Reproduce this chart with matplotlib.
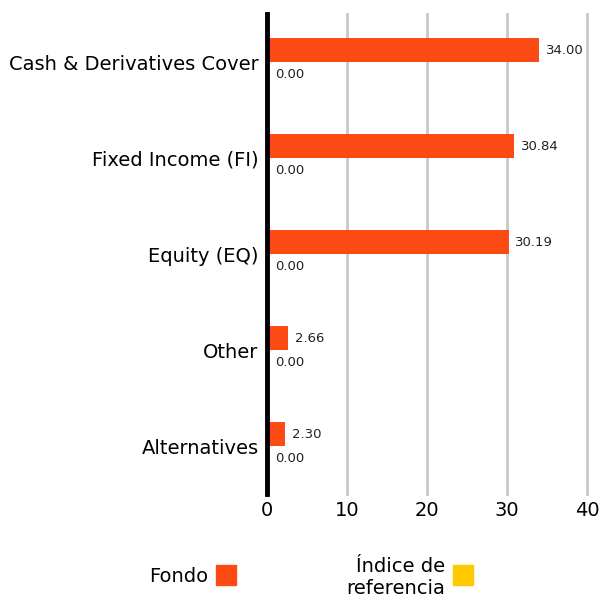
import matplotlib.pyplot as plt
import numpy as np
from matplotlib.patches import Rectangle

# data
categories = ['Cash & Derivatives Cover', 'Fixed Income (FI)', 'Equity (EQ)', 'Other', 'Alternatives']
fondo = [34.00, 30.84, 30.19, 2.66, 2.30]
indice = [0.00, 0.00, 0.00, 0.00, 0.00]
xticks = [0, 10, 20, 30, 40]

orange = '#FC4A14'
yellow = '#FFC800'

plt.rcParams['font.family'] = ['DejaVu Sans']

fig = plt.figure(figsize=(5.99, 6.04), dpi=100)
ax = fig.add_axes([267 / 599, 1 - 494 / 604, 320 / 599, 480 / 604])

y = np.arange(len(categories))
h = 0.25
ax.barh(y - h / 2, fondo, height=h, color=orange, zorder=3)
ax.barh(y + h / 2, indice, height=h, color=yellow, zorder=3)

for yi, v in zip(y, fondo):
    ax.annotate(f'{v:.2f}', (v, yi - h / 2), xytext=(5, 0), textcoords='offset points',
                va='center', ha='left', fontsize=9.5, color='#222222')
for yi, v in zip(y, indice):
    ax.annotate(f'{v:.2f}', (v, yi + h / 2), xytext=(6, 0), textcoords='offset points',
                va='center', ha='left', fontsize=9.5, color='#222222')

ax.set_xlim(0, 40)
ax.set_ylim(len(categories) - 0.5, -0.5)
ax.set_xticks(xticks)
ax.set_yticks(y)
ax.set_yticklabels(categories, fontsize=14)
ax.tick_params(axis='x', labelsize=14, length=0, pad=5)
ax.tick_params(axis='y', length=0, pad=6)

for s in ax.spines.values():
    s.set_visible(False)
ax.grid(axis='x', color='#c8c8c8', linewidth=2, zorder=0)
for gl in ax.get_xgridlines():
    gl.set_clip_on(False)
ax.axvline(0, color='black', linewidth=3.5, zorder=4, clip_on=False)

# legend
fig.text(208 / 599, 1 - 577 / 604, 'Fondo', ha='right', va='center', fontsize=14)
fig.patches.append(Rectangle((216 / 599, 1 - 585 / 604), 20 / 599, 20 / 604,
                             transform=fig.transFigure, color=orange))
fig.text(445 / 599, 1 - 577 / 604, 'Índice de\nreferencia', ha='right', va='center',
         fontsize=14, multialignment='right', linespacing=1.2)
fig.patches.append(Rectangle((453 / 599, 1 - 585 / 604), 20 / 599, 20 / 604,
                             transform=fig.transFigure, color=yellow))

fig.savefig('out.png', dpi=100)
